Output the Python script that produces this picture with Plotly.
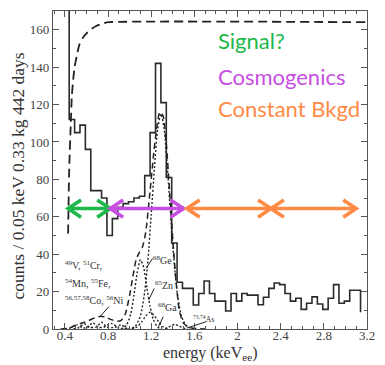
import plotly.graph_objects as go

# ---- measured spectrum: 0.05 keV bins, left edges start at 0.39 keV ----
bin_start = 0.39
bin_width = 0.05
counts = [250, 112, 105, 109, 96, 74, 74, 70, 50, 59, 65, 67, 68, 70, 71, 82, 105,
          142, 121, 81, 46, 25, 21.7, 21.7, 12.8, 19, 25.7, 19, 14.9, 14.9, 9.6, 19,
          14.9, 19, 18.1, 18.1, 13, 17, 21.7, 24.6, 23.7, 19, 14.9, 16.4, 10.5, 13.8,
          17.2, 13.4, 10.5, 16.4, 23.7, 13.8, 14.9, 20.7, 20.7]
last_level = 9

# ---- efficiency-like dashed curve across the top ----
eff_E = [0.43, 0.44, 0.455, 0.465, 0.48, 0.49, 0.51, 0.535, 0.565, 0.60, 0.65, 0.69, 0.75, 0.81, 3.20]
eff_y = [51, 85, 110, 125, 135, 140, 146, 152, 155.5, 158, 160.5, 162, 163.3, 164, 164]

# ---- summed L-shell cosmogenic model (dashed) ----
sum_E = [0.36, 0.44, 0.50, 0.56, 0.62, 0.68, 0.73, 0.78, 0.83, 0.88, 0.92, 0.96, 1.00, 1.03,
         1.06, 1.09, 1.12, 1.15, 1.19, 1.22, 1.25, 1.28, 1.31, 1.34, 1.37, 1.40, 1.43, 1.46,
         1.50, 1.55, 1.60, 1.70]
sum_y = [0, 0.5, 2, 3.2, 4.5, 6, 6.8, 6.3, 5, 4.2, 4.5, 8, 18, 28, 37, 41, 44, 52, 74, 92,
         107, 116, 114, 99, 74, 48, 26, 10, 3, 1, 0.3, 0]

# ---- individual peaks (dotted) ----
ge_E = [0.95, 1.00, 1.05, 1.10, 1.14, 1.17, 1.20, 1.23, 1.26, 1.29, 1.32, 1.35, 1.38, 1.41, 1.44, 1.48, 1.53, 1.60]
ge_y = [0, 0.2, 1.3, 7, 20, 37, 61, 86, 107, 115, 107, 86, 61, 37, 20, 7, 1.3, 0]

zn_E = [0.92, 0.97, 1.01, 1.04, 1.07, 1.10, 1.13, 1.16, 1.19, 1.22, 1.26, 1.30]
zn_y = [0, 2, 8, 18, 30, 37, 33, 22, 12, 5, 1, 0]

ga_E = [1.02, 1.07, 1.11, 1.15, 1.19, 1.23, 1.27, 1.31, 1.36]
ga_y = [0, 1.2, 3.7, 7, 9, 7, 3.7, 1.2, 0]

as_E = [1.33, 1.38, 1.42, 1.46, 1.52]
as_y = [0, 1.5, 2.5, 1.5, 0]

light_a_E = [0.40, 0.45, 0.51, 0.57, 0.61, 0.66, 0.71, 0.76, 0.83, 0.90, 0.95]
light_a_y = [0, 0.6, 2.2, 0.6, 0.8, 3.4, 0.9, 0.9, 3.0, 0.5, 0]
light_b_E = [0.48, 0.53, 0.58, 0.63, 0.69, 0.74, 0.79, 0.86, 0.92, 0.98]
light_b_y = [0, 0.8, 2.8, 0.9, 1.0, 3.6, 1.0, 0.8, 2.2, 0]

# ---- analysis regions (keV) drawn as double-headed arrows ----
arrow_level = 64.4
region_signal = [(0.43, 0.82)]
region_cosmo = [(0.82, 1.50)]
region_bkgd = [(1.53, 2.31), (2.31, 3.10)]

GREEN = "#1eb84a"
PURPLE = "#c64ee0"
ORANGE = "#ff8a45"
INK = "#222222"
SERIF = "Liberation Serif"

fig = go.Figure()

# histogram as steps
edges = [bin_start + bin_width * i for i in range(len(counts) + 1)]
fig.add_trace(go.Scatter(x=edges, y=counts + [last_level], mode="lines",
                         line=dict(shape="hv", color="#2b2b2b", width=1.6),
                         hoverinfo="skip", showlegend=False))

fig.add_trace(go.Scatter(x=eff_E, y=eff_y, mode="lines",
                         line=dict(color=INK, width=1.8, dash="9px,5px", shape="spline", smoothing=0.6),
                         showlegend=False))
fig.add_trace(go.Scatter(x=sum_E, y=sum_y, mode="lines",
                         line=dict(color=INK, width=1.5, dash="6px,4px", shape="spline", smoothing=0.6),
                         showlegend=False))
for ex, ey in [(ge_E, ge_y), (zn_E, zn_y), (ga_E, ga_y), (as_E, as_y),
               (light_a_E, light_a_y), (light_b_E, light_b_y)]:
    fig.add_trace(go.Scatter(x=ex, y=ey, mode="lines",
                             line=dict(color=INK, width=1.4, dash="2px,2px", shape="spline", smoothing=0.6),
                             showlegend=False))

# double-headed chevron arrows
arm_dx, arm_dy = 0.12, 4.6


def arrow_path(regions):
    xs, ys = [], []
    for a, b in regions:
        xs += [a, b, None, a + arm_dx, a, a + arm_dx, None, b - arm_dx, b, b - arm_dx, None]
        ys += [arrow_level, arrow_level, None,
               arrow_level + arm_dy, arrow_level, arrow_level - arm_dy, None,
               arrow_level + arm_dy, arrow_level, arrow_level - arm_dy, None]
    return xs, ys


for regions, col in [(region_signal, GREEN), (region_cosmo, PURPLE), (region_bkgd, ORANGE)]:
    ax_, ay_ = arrow_path(regions)
    fig.add_trace(go.Scatter(x=ax_, y=ay_, mode="lines",
                             line=dict(color=col, width=3.6), showlegend=False))

annotations = []


def label(text, x, y, size=10, xanchor="left"):
    annotations.append(dict(x=x, y=y, xref="x", yref="y", text=text, showarrow=False,
                            xanchor=xanchor, yanchor="middle",
                            font=dict(family=SERIF, size=size, color="#333333")))


label("<sup>49</sup>V, <sup>51</sup>Cr,", 0.38, 34.1)
label("<sup>54</sup>Mn, <sup>55</sup>Fe,", 0.38, 24.5)
label("<sup>56,57,58</sup>Co, <sup>56</sup>Ni", 0.38, 15.3)
label("<sup>68</sup>Ge", 1.20, 36.8)
label("<sup>65</sup>Zn", 1.215, 23.5)
label("<sup>68</sup>Ga", 1.24, 11.6)
label("<sup>73,74</sup>As", 1.57, 5.2, size=8)

# leader lines from labels to curves
leaders = [((0.731, 6.9), (0.806, 11.9)), ((1.152, 32.4), (1.213, 37.7)),
           ((1.177, 15.5), (1.228, 21.7)), ((1.267, 1.2), (1.312, 6.6)),
           ((1.53, 0.5), (1.71, 3.9))]
shapes = []
for (x0, y0), (x1, y1) in leaders:
    shapes.append(dict(type="line", xref="x", yref="y", x0=x0, y0=y0, x1=x1, y1=y1,
                       line=dict(color=INK, width=1)))

# region legend text
for txt, yv, col in [("Signal?", 154, GREEN), ("Cosmogenics", 135, PURPLE),
                     ("Constant Bkgd", 118, ORANGE)]:
    annotations.append(dict(x=1.80, y=yv, xref="x", yref="y", text=txt, showarrow=False,
                            xanchor="left", yanchor="middle",
                            font=dict(family="Lato", size=22, color=col)))

# axis titles
annotations.append(dict(x=0.5, y=-0.078, xref="paper", yref="paper",
                        text="energy (keV<sub>ee</sub>)", showarrow=False,
                        xanchor="center", yanchor="middle", borderpad=0,
                        font=dict(family=SERIF, size=16, color="#333333")))
annotations.append(dict(x=-0.111, y=0.48, xref="paper", yref="paper",
                        text="counts / 0.05 keV 0.33 kg 442 days", showarrow=False,
                        textangle=-90, xanchor="center", yanchor="middle",
                        font=dict(family=SERIF, size=17.5, color="#333333")))

axis_common = dict(showline=True, linecolor="#555555", linewidth=1.2, mirror="allticks",
                   ticks="inside", ticklen=6, tickwidth=1, tickcolor="#555555",
                   showgrid=False, zeroline=False,
                   tickfont=dict(family=SERIF, size=13, color="#444444"))

fig.update_layout(
    width=385, height=365, autosize=False,
    margin=dict(l=53, r=10, t=10, b=36),
    paper_bgcolor="white", plot_bgcolor="white",
    showlegend=False,
    annotations=annotations, shapes=shapes,
    xaxis=dict(range=[0.29, 3.2], tick0=0.4, dtick=0.4, tickformat="~g",
               ticklabelstandoff=-6,
               minor=dict(dtick=0.1, tick0=0.4, ticks="inside", ticklen=3, tickcolor="#555555"),
               **axis_common),
    yaxis=dict(range=[0, 170], tick0=0, dtick=20,
               minor=dict(dtick=10, ticks="inside", ticklen=3, tickcolor="#555555"),
               **axis_common),
)

fig.write_html("out.html")
